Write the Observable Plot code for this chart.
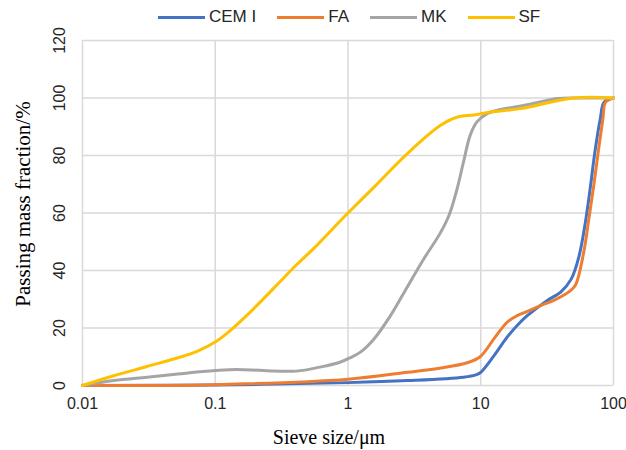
<!DOCTYPE html>
<html><head><meta charset="utf-8">
<script src="https://cdn.jsdelivr.net/npm/d3@7"></script>
<script src="https://cdn.jsdelivr.net/npm/@observablehq/plot@0.6"></script>
<style>
body{margin:0;background:#fff;width:626px;height:450px;overflow:hidden;}
#legend{height:34px;display:flex;align-items:center;gap:21px;padding-left:158px;font-family:"Liberation Sans",sans-serif;font-size:17px;color:#262626;}
.item{display:flex;align-items:center;}
.sw{width:47px;height:3px;margin-right:4px;}
#chart svg{overflow:visible;}
</style></head><body>
<div id="legend"></div>
<div id="chart"></div>
<script>
const seriesNames = ["CEM I", "FA", "MK", "SF"];
const seriesColors = ["#4472C4", "#ED7D31", "#A5A5A5", "#FFC000"];

const cemX = [0.01, 0.1, 1, 2.8, 7.4, 9.3, 10, 12.6, 15.8, 18.8, 22.4, 31.7, 40, 48, 55, 61.5, 67.2, 72.3, 79.5, 85, 100];
const cemY = [0, 0.2, 1.0, 1.7, 2.9, 3.8, 4.6, 10.4, 16.8, 20.9, 24.3, 29.6, 32.5, 37, 45, 57, 69.6, 81, 92.8, 98.5, 100];

const faX = [0.01, 0.1, 1, 2.8, 5, 7.9, 9.9, 12.6, 15.8, 18.8, 22.4, 28.2, 35.5, 47.4, 51.8, 59.7, 65.2, 71, 76.6, 83.2, 87, 100];
const faY = [0, 0.3, 2.2, 4.6, 6.1, 7.9, 10, 16.3, 22, 24.3, 25.8, 27.8, 29.6, 33, 35, 46.4, 58, 69.6, 81, 92.8, 98.5, 100];

const mkX = [0.01, 0.0172, 0.0306, 0.0546, 0.1, 0.145, 0.23, 0.409, 0.614, 0.87, 1.03, 1.24, 1.57, 2.09, 2.79, 3.72, 4.95, 5.8, 6.6, 7.41, 8.32, 9.33, 11.1, 14, 21, 38, 55, 100];
const mkY = [0, 1.7, 2.9, 4.1, 5.2, 5.6, 5.2, 5.0, 6.4, 8.1, 9.6, 11.6, 16.2, 24.3, 34.2, 44, 53, 59.5, 68, 77.7, 87, 91.6, 94.5, 96, 97.4, 99.8, 100, 100];

const sfX = [0.01, 0.0172, 0.0306, 0.0546, 0.073, 0.1, 0.129, 0.172, 0.23, 0.306, 0.409, 0.55, 0.88, 1, 1.57, 2.79, 4.95, 6.61, 8.9, 11.8, 20, 50, 100];
const sfY = [0, 3.4, 6.6, 9.9, 11.9, 15.1, 19, 24.3, 30.1, 36, 42, 47.6, 57.4, 60, 69, 80.6, 90.4, 93.3, 94.1, 95.1, 96.3, 100, 100];

const xTicks = [0.01, 0.1, 1, 10, 100];
const xTickLabels = ["0.01", "0.1", "1", "10", "100"];
const yTicks = [0, 20, 40, 60, 80, 100, 120];

const xTitle = "Sieve size/μm";
const yTitle = "Passing mass fraction/%";

const seriesX = [cemX, faX, mkX, sfX];
const seriesY = [cemY, faY, mkY, sfY];
const rows = [];
seriesNames.forEach((name, k) => {
  seriesX[k].forEach((x, i) => rows.push({name, size: x, pass: seriesY[k][i]}));
});

// legend
const legend = document.getElementById("legend");
seriesNames.forEach((name, k) => {
  const it = document.createElement("div");
  it.className = "item";
  const sw = document.createElement("div");
  sw.className = "sw";
  sw.style.background = seriesColors[k];
  const tx = document.createElement("span");
  tx.textContent = name;
  it.appendChild(sw); it.appendChild(tx);
  legend.appendChild(it);
});

const chart = Plot.plot({
  width: 626,
  height: 416,
  marginLeft: 82,
  marginRight: 13,
  marginTop: 6,
  marginBottom: 65,
  style: {fontFamily: "Liberation Sans, sans-serif", fontSize: "16px", color: "#262626", background: "#fff", overflow: "visible"},
  x: {type: "log", domain: [0.01, 100], axis: null},
  y: {domain: [0, 120], axis: null},
  color: {domain: seriesNames, range: seriesColors},
  marks: [
    Plot.gridX(xTicks, {stroke: "#d9d9d9", strokeOpacity: 1, strokeWidth: 1.5}),
    Plot.gridY(yTicks, {stroke: "#d9d9d9", strokeOpacity: 1, strokeWidth: 1.5}),
    Plot.axisX(xTicks, {tickSize: 0, tickPadding: 12, tickFormat: d => xTickLabels[xTicks.indexOf(d)], label: null, fontSize: 16}),
    Plot.text(yTicks, {y: d => d, text: d => String(d), frameAnchor: "left", rotate: -90, dx: -23, textAnchor: "middle", lineAnchor: "middle", fontSize: 16, fill: "#262626"}),
    Plot.line(rows, {x: "size", y: "pass", z: "name", stroke: "name", curve: "catmull-rom", strokeWidth: 3}),
    Plot.text([xTitle], {frameAnchor: "bottom", dx: -19, dy: 52, textAnchor: "middle", lineAnchor: "middle", fontFamily: "Liberation Serif", fontSize: 20, fill: "#000"}),
    Plot.text([yTitle], {frameAnchor: "left", rotate: -90, dx: -59, dy: -9, textAnchor: "middle", lineAnchor: "middle", fontFamily: "Liberation Serif", fontSize: 21, fill: "#000"})
  ]
});
document.getElementById("chart").appendChild(chart);
</script></body></html>
